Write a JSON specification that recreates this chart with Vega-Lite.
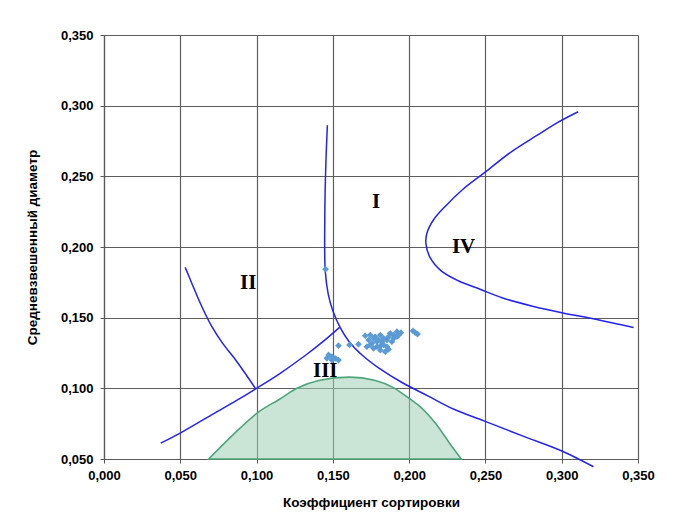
{
  "$schema": "https://vega.github.io/schema/vega-lite/v6.json",
  "autosize": "none",
  "width": 534,
  "height": 424,
  "padding": {"left": 104, "top": 35, "right": 46, "bottom": 72},
  "background": "white",
  "config": {"view": {"stroke": null}},
  "datasets": {
    "curves": [
      {"series": "A", "i": 1, "x": 0.1464, "y": 0.2861},
      {"series": "A", "i": 2, "x": 0.1453, "y": 0.2550},
      {"series": "A", "i": 3, "x": 0.1447, "y": 0.2191},
      {"series": "A", "i": 4, "x": 0.1450, "y": 0.1833},
      {"series": "A", "i": 5, "x": 0.1470, "y": 0.1665},
      {"series": "A", "i": 6, "x": 0.1501, "y": 0.1545},
      {"series": "A", "i": 7, "x": 0.1550, "y": 0.1426},
      {"series": "A", "i": 8, "x": 0.1607, "y": 0.1330},
      {"series": "A", "i": 9, "x": 0.1693, "y": 0.1234},
      {"series": "A", "i": 10, "x": 0.1807, "y": 0.1139},
      {"series": "A", "i": 11, "x": 0.1950, "y": 0.1043},
      {"series": "A", "i": 12, "x": 0.2122, "y": 0.0947},
      {"series": "A", "i": 13, "x": 0.2293, "y": 0.0852},
      {"series": "A", "i": 14, "x": 0.2494, "y": 0.0768},
      {"series": "A", "i": 15, "x": 0.2751, "y": 0.0660},
      {"series": "A", "i": 16, "x": 0.3008, "y": 0.0553},
      {"series": "A", "i": 17, "x": 0.3208, "y": 0.0445},
      {"series": "B", "i": 1, "x": 0.0532, "y": 0.1856},
      {"series": "B", "i": 2, "x": 0.0578, "y": 0.1737},
      {"series": "B", "i": 3, "x": 0.0635, "y": 0.1593},
      {"series": "B", "i": 4, "x": 0.0706, "y": 0.1438},
      {"series": "B", "i": 5, "x": 0.0778, "y": 0.1318},
      {"series": "B", "i": 6, "x": 0.0864, "y": 0.1199},
      {"series": "B", "i": 7, "x": 0.0935, "y": 0.1091},
      {"series": "B", "i": 8, "x": 0.0992, "y": 0.1000},
      {"series": "C", "i": 1, "x": 0.0372, "y": 0.0612},
      {"series": "C", "i": 2, "x": 0.0520, "y": 0.0696},
      {"series": "C", "i": 3, "x": 0.0692, "y": 0.0804},
      {"series": "C", "i": 4, "x": 0.0864, "y": 0.0911},
      {"series": "C", "i": 5, "x": 0.0992, "y": 0.0995},
      {"series": "C", "i": 6, "x": 0.1150, "y": 0.1103},
      {"series": "C", "i": 7, "x": 0.1321, "y": 0.1234},
      {"series": "C", "i": 8, "x": 0.1435, "y": 0.1330},
      {"series": "C", "i": 9, "x": 0.1544, "y": 0.1431},
      {"series": "D", "i": 1, "x": 0.3108, "y": 0.2957},
      {"series": "D", "i": 2, "x": 0.2980, "y": 0.2885},
      {"series": "D", "i": 3, "x": 0.2837, "y": 0.2789},
      {"series": "D", "i": 4, "x": 0.2665, "y": 0.2670},
      {"series": "D", "i": 5, "x": 0.2494, "y": 0.2526},
      {"series": "D", "i": 6, "x": 0.2351, "y": 0.2407},
      {"series": "D", "i": 7, "x": 0.2236, "y": 0.2287},
      {"series": "D", "i": 8, "x": 0.2159, "y": 0.2191},
      {"series": "D", "i": 9, "x": 0.2116, "y": 0.2096},
      {"series": "D", "i": 10, "x": 0.2110, "y": 0.2024},
      {"series": "D", "i": 11, "x": 0.2136, "y": 0.1928},
      {"series": "D", "i": 12, "x": 0.2208, "y": 0.1833},
      {"series": "D", "i": 13, "x": 0.2322, "y": 0.1761},
      {"series": "D", "i": 14, "x": 0.2465, "y": 0.1701},
      {"series": "D", "i": 15, "x": 0.2608, "y": 0.1641},
      {"series": "D", "i": 16, "x": 0.2808, "y": 0.1581},
      {"series": "D", "i": 17, "x": 0.3008, "y": 0.1533},
      {"series": "D", "i": 18, "x": 0.3237, "y": 0.1486},
      {"series": "D", "i": 19, "x": 0.3471, "y": 0.1431}
    ],
    "zone": [
      {"x": 0.0686, "y": 0.0500},
      {"x": 0.0835, "y": 0.0660},
      {"x": 0.1007, "y": 0.0828},
      {"x": 0.1150, "y": 0.0923},
      {"x": 0.1264, "y": 0.1000},
      {"x": 0.1407, "y": 0.1055},
      {"x": 0.1607, "y": 0.1079},
      {"x": 0.1779, "y": 0.1055},
      {"x": 0.1893, "y": 0.1007},
      {"x": 0.2007, "y": 0.0923},
      {"x": 0.2079, "y": 0.0864},
      {"x": 0.2179, "y": 0.0744},
      {"x": 0.2265, "y": 0.0612},
      {"x": 0.2342, "y": 0.0500}
    ],
    "points": [
      {"x": 0.1452, "y": 0.1843},
      {"x": 0.1537, "y": 0.1302},
      {"x": 0.1609, "y": 0.1307},
      {"x": 0.1668, "y": 0.1312},
      {"x": 0.1712, "y": 0.1372},
      {"x": 0.1745, "y": 0.1377},
      {"x": 0.1778, "y": 0.1365},
      {"x": 0.1811, "y": 0.1377},
      {"x": 0.1876, "y": 0.1389},
      {"x": 0.1920, "y": 0.1401},
      {"x": 0.1946, "y": 0.1394},
      {"x": 0.1898, "y": 0.1377},
      {"x": 0.1931, "y": 0.1377},
      {"x": 0.1898, "y": 0.1354},
      {"x": 0.1920, "y": 0.1365},
      {"x": 0.1865, "y": 0.1365},
      {"x": 0.1887, "y": 0.1330},
      {"x": 0.1855, "y": 0.1342},
      {"x": 0.1832, "y": 0.1354},
      {"x": 0.1799, "y": 0.1342},
      {"x": 0.1789, "y": 0.1330},
      {"x": 0.1734, "y": 0.1342},
      {"x": 0.1756, "y": 0.1319},
      {"x": 0.1745, "y": 0.1307},
      {"x": 0.1767, "y": 0.1283},
      {"x": 0.1811, "y": 0.1271},
      {"x": 0.1843, "y": 0.1259},
      {"x": 0.1865, "y": 0.1276},
      {"x": 0.1832, "y": 0.1307},
      {"x": 0.1811, "y": 0.1300},
      {"x": 0.1789, "y": 0.1295},
      {"x": 0.1855, "y": 0.1295},
      {"x": 0.1822, "y": 0.1330},
      {"x": 0.1767, "y": 0.1354},
      {"x": 0.1723, "y": 0.1295},
      {"x": 0.2025, "y": 0.1406},
      {"x": 0.2055, "y": 0.1384},
      {"x": 0.2040, "y": 0.1394},
      {"x": 0.1472, "y": 0.1236},
      {"x": 0.1494, "y": 0.1224},
      {"x": 0.1515, "y": 0.1212},
      {"x": 0.1537, "y": 0.1200},
      {"x": 0.1461, "y": 0.1212},
      {"x": 0.1494, "y": 0.1200}
    ],
    "labels": [
      {"x": 0.1784, "y": 0.2318, "t": "I"},
      {"x": 0.0945, "y": 0.1745, "t": "II"},
      {"x": 0.1450, "y": 0.1123, "t": "III"},
      {"x": 0.2357, "y": 0.2002, "t": "IV"}
    ]
  },
  "layer": [
    {
      "data": {"name": "zone"},
      "mark": {"type": "area", "interpolate": "monotone", "fill": "#9fd0b3", "fillOpacity": 0.55, "stroke": "#4fa57a", "strokeWidth": 1.6},
      "encoding": {
        "x": {
          "field": "x", "type": "quantitative",
          "scale": {"domain": [0, 0.35], "nice": false, "zero": false},
          "axis": {
            "values": [0, 0.025, 0.05, 0.075, 0.1, 0.125, 0.15, 0.175, 0.2, 0.225, 0.25, 0.275, 0.3, 0.325, 0.35],
            "labelExpr": "round(datum.value*1000) % 50 == 0 ? replace(format(datum.value, '.3f'), '.', ',') : ''",
            "title": "Коэффициент сортировки",
            "titleFont": "Liberation Sans", "titleFontSize": 13.5, "titleFontWeight": "bold", "titleColor": "#000000", "titlePadding": 13,
            "labelFont": "Liberation Sans", "labelFontSize": 13, "labelFontWeight": "bold", "labelColor": "#000000", "labelPadding": 6,
            "labelFlush": false, "labelOverlap": false,
            "domainColor": "#595959", "domainWidth": 1.2,
            "tickSize": 4,
            "tickColor": {"condition": {"test": "round(datum.value*1000) % 50 == 0", "value": "#595959"}, "value": "transparent"},
            "grid": true,
            "gridColor": {"condition": {"test": "round(datum.value*1000) % 50 == 0", "value": "#5e5e5e"}, "value": "#d9d9d9"},
            "gridWidth": {"condition": {"test": "round(datum.value*1000) % 50 == 0", "value": 1.2}, "value": 1}
          }
        },
        "y": {
          "field": "y", "type": "quantitative",
          "scale": {"domain": [0.05, 0.35], "nice": false, "zero": false},
          "axis": {
            "values": [0.05, 0.075, 0.1, 0.125, 0.15, 0.175, 0.2, 0.225, 0.25, 0.275, 0.3, 0.325, 0.35],
            "labelExpr": "round(datum.value*1000) % 50 == 0 ? replace(format(datum.value, '.3f'), '.', ',') : ''",
            "title": "Средневзвешенный диаметр",
            "titleFont": "Liberation Sans", "titleFontSize": 13.5, "titleFontWeight": "bold", "titleColor": "#000000", "titlePadding": 21,
            "labelFont": "Liberation Sans", "labelFontSize": 13, "labelFontWeight": "bold", "labelColor": "#000000", "labelPadding": 7,
            "labelFlush": false, "labelOverlap": false,
            "domainColor": "#595959", "domainWidth": 1.2,
            "tickSize": 4,
            "tickColor": {"condition": {"test": "round(datum.value*1000) % 50 == 0", "value": "#595959"}, "value": "transparent"},
            "grid": true,
            "gridColor": {"condition": {"test": "round(datum.value*1000) % 50 == 0", "value": "#5e5e5e"}, "value": "#d9d9d9"},
            "gridWidth": {"condition": {"test": "round(datum.value*1000) % 50 == 0", "value": 1.2}, "value": 1}
          }
        },
        "y2": {"datum": 0.05}
      }
    },
    {
      "data": {"name": "curves"},
      "mark": {"type": "line", "interpolate": "catmull-rom", "color": "#2323f5", "strokeWidth": 1.5},
      "encoding": {
        "x": {"field": "x", "type": "quantitative"},
        "y": {"field": "y", "type": "quantitative"},
        "detail": {"field": "series"},
        "order": {"field": "i", "type": "quantitative"}
      }
    },
    {
      "data": {"name": "points"},
      "mark": {"type": "point", "shape": "diamond", "filled": true, "color": "#5b9bd5", "opacity": 1, "size": 45},
      "encoding": {
        "x": {"field": "x", "type": "quantitative"},
        "y": {"field": "y", "type": "quantitative"}
      }
    },
    {
      "data": {"name": "labels"},
      "mark": {"type": "text", "font": "Liberation Serif", "fontWeight": "bold", "fontSize": 21, "color": "#000000", "align": "center", "baseline": "middle"},
      "encoding": {
        "x": {"field": "x", "type": "quantitative"},
        "y": {"field": "y", "type": "quantitative"},
        "text": {"field": "t"}
      }
    }
  ]
}
